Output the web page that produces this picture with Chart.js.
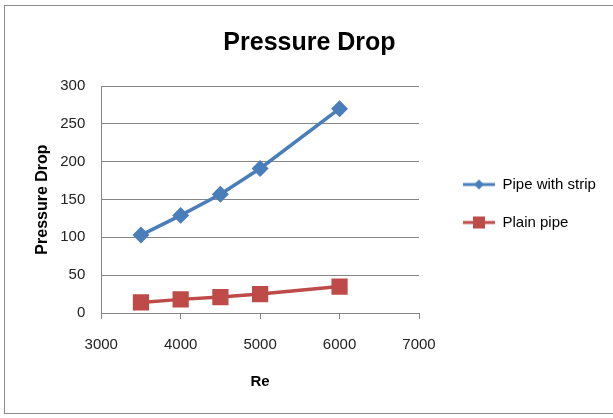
<!DOCTYPE html>
<html>
<head>
<meta charset="utf-8">
<script src="https://cdn.jsdelivr.net/npm/chart.js@4/dist/chart.umd.min.js"></script>
<style>
  body { margin: 0; background: #fff; }
  #wrap { position: relative; width: 613px; height: 418px; }
  #frame { position: absolute; left: 4px; top: 5px; width: 620px; height: 409px; border: 1px solid #8c8c8c; box-sizing: border-box; }
  canvas { position: absolute; left: 0; top: 0; }
</style>
</head>
<body>
<div id="wrap">
  <div id="frame"></div>
  <canvas id="chart" width="613" height="418"></canvas>
</div>
<script>
var reynolds = [3500, 4000, 4500, 5000, 6000];
var pipeWithStrip = [103, 129, 157, 191, 270];
var plainPipe = [14, 18, 21, 25, 35];
var seriesNames = ['Pipe with strip', 'Plain pipe'];

var blue = '#4a7ebb';
var red = '#be4b48';

// legend icon: transparent gap on the left, then line with marker
function legendIcon(color, shape) {
  var c = document.createElement('canvas');
  c.width = 53; c.height = 14;
  var g = c.getContext('2d');
  g.strokeStyle = color; g.fillStyle = color; g.lineWidth = 3;
  g.beginPath(); g.moveTo(21, 7); g.lineTo(53, 7); g.stroke();
  if (shape === 'diamond') {
    g.beginPath(); g.moveTo(37, 2); g.lineTo(42, 7); g.lineTo(37, 12); g.lineTo(32, 7); g.closePath(); g.fill();
  } else {
    g.fillRect(31, 1, 12, 12);
  }
  return c;
}

function toPoints(ys) {
  return reynolds.map(function (x, i) { return { x: x, y: ys[i] }; });
}

// the layout caps a side legend at a quarter of the width, let it be wider;
// and centre the title a bit left of the full width, like the original
var tweakLayout = {
  id: 'tweakLayout',
  beforeLayout: function (chart) {
    var lg = chart.legend;
    if (!lg || lg._wide) return;
    lg._wide = true;
    var fit = lg.fit;
    lg.fit = function () {
      fit.call(this);
      this.width = 194;
    };
  },
  afterLayout: function (chart) {
    if (chart.titleBlock) chart.titleBlock.right -= 27;
  }
};

document.addEventListener('DOMContentLoaded', function () {
  var icons = [legendIcon(blue, 'diamond'), legendIcon(red, 'square')];
  var ctx = document.getElementById('chart').getContext('2d');
  new Chart(ctx, {
    type: 'line',
    data: {
      datasets: [{
        label: seriesNames[0],
        data: toPoints(pipeWithStrip),
        borderColor: blue,
        backgroundColor: blue,
        borderWidth: 3.5,
        pointStyle: 'rectRot',
        pointRadius: 6,
        tension: 0
      }, {
        label: seriesNames[1],
        data: toPoints(plainPipe),
        borderColor: red,
        backgroundColor: red,
        borderWidth: 3.5,
        pointStyle: 'rect',
        pointRadius: 9,
        tension: 0
      }]
    },
    plugins: [tweakLayout],
    options: {
      responsive: false,
      animation: false,
      layout: { padding: { left: 33, right: 0, top: 12, bottom: 23 } },
      plugins: {
        title: {
          display: true,
          text: 'Pressure Drop',
          color: '#000',
          font: { family: 'Liberation Sans', size: 25, weight: 'bold' },
          padding: { top: 16, bottom: 28 }
        },
        legend: {
          position: 'right',
          labels: {
            color: '#000',
            font: { family: 'Liberation Sans', size: 15 },
            boxHeight: 14,
            pointStyleWidth: 53,
            padding: 23,
            usePointStyle: true,
            generateLabels: function (chart) {
              return chart.data.datasets.map(function (ds, i) {
                return { text: ds.label, pointStyle: icons[i], datasetIndex: i, fontColor: '#000', lineWidth: 0, strokeStyle: 'transparent', fillStyle: 'transparent' };
              });
            }
          }
        },
        tooltip: { enabled: false }
      },
      scales: {
        x: {
          type: 'linear',
          min: 3000,
          max: 7000,
          ticks: {
            stepSize: 1000, color: '#222', font: { family: 'Liberation Sans', size: 15 }, padding: 17,
            callback: function (v) { return String(v); }
          },
          grid: { drawOnChartArea: false, color: '#868686', tickLength: 6 },
          border: { color: '#868686' },
          title: { display: true, text: 'Re', color: '#000', font: { family: 'Liberation Sans', size: 15, weight: 'bold' }, padding: { top: 2 } }
        },
        y: {
          min: 0,
          max: 300,
          ticks: { stepSize: 50, color: '#222', font: { family: 'Liberation Sans', size: 15 }, padding: 16 },
          grid: { color: '#868686', drawTicks: false },
          border: { color: '#868686' },
          title: { display: true, text: 'Pressure Drop', color: '#000', font: { family: 'Liberation Sans', size: 16, weight: 'bold' }, padding: { top: 0, bottom: -8 } }
        }
      }
    }
  });
});
</script>
</body>
</html>
